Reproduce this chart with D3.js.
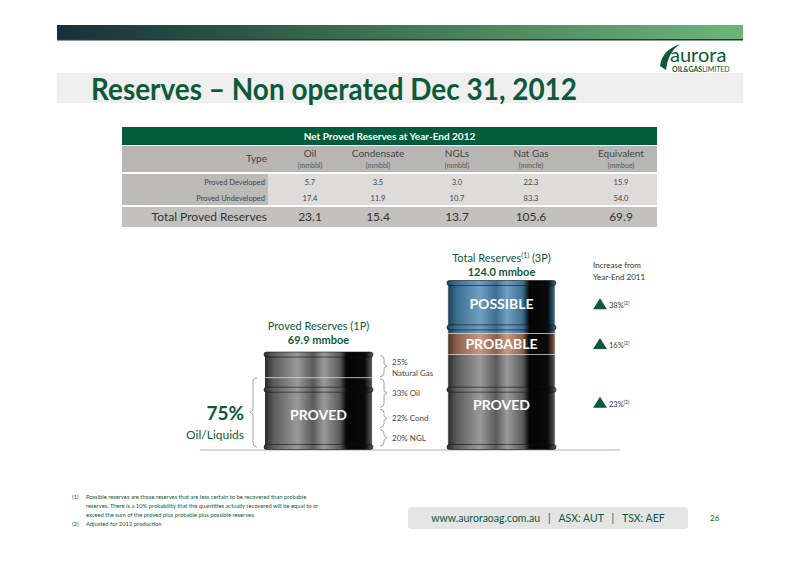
<!DOCTYPE html>
<html><head><meta charset="utf-8">
<script src="https://cdn.jsdelivr.net/npm/d3@7"></script>
<style>body{margin:0;background:#fff}svg{display:block;font-family:Lato,"Open Sans",sans-serif}</style>
</head><body><div id="chart"></div>
<script>
const columns = ["Oil", "Condensate", "NGLs", "Nat Gas", "Equivalent"];
const units = ["(mmbbl)", "(mmbbl)", "(mmbbl)", "(mmcfe)", "(mmboe)"];
const rowLabels = ["Proved Developed", "Proved Undeveloped"];
const developed = ["5.7", "3.5", "3.0", "22.3", "15.9"];
const undeveloped = ["17.4", "11.9", "10.7", "83.3", "54.0"];
const totals = ["23.1", "15.4", "13.7", "105.6", "69.9"];

const barrels = ["1P", "3P"];
const categories = ["PROVED", "PROBABLE", "POSSIBLE"];
const reserves3P = [69.9, 16.0, 38.1];
const mix1P = [{ label: "20% NGL", v: 20 }, { label: "22% Cond", v: 22 }, { label: "33% Oil", v: 33 }, { label: "25%|Natural Gas", v: 25 }];
const increases = ["23%", "16%", "38%"];

const W = 800, H = 565;
const svg = d3.select("#chart").append("svg").attr("width", W).attr("height", H);
const defs = svg.append("defs");
const green = "#0d5a3a";

// header bar
const hg = defs.append("linearGradient").attr("id", "hdr");
hg.append("stop").attr("offset", "0%").attr("stop-color", "#16303a");
hg.append("stop").attr("offset", "45%").attr("stop-color", "#3d7050");
hg.append("stop").attr("offset", "100%").attr("stop-color", "#6db57a");
svg.append("rect").attr("x", 57).attr("y", 25).attr("width", 686).attr("height", 14).attr("fill", "url(#hdr)");
svg.append("rect").attr("x", 57).attr("y", 39).attr("width", 686).attr("height", 1.5).attr("fill", "#1c3f30");

// logo
svg.append("path").attr("d", "M660,66 Q662,50 680,44 Q668,52 666,70 Z").attr("fill", green);
svg.append("text").attr("x", 670).attr("y", 62).attr("font-size", 20).attr("fill", green).attr("font-weight", 400).text("aurora");
svg.append("text").attr("x", 672).attr("y", 72).attr("font-size", 7).attr("fill", green).attr("font-weight", 700).text("OIL&GAS").append("tspan").attr("font-weight", 400).text("LIMITED");

// title
svg.append("rect").attr("x", 57).attr("y", 73).attr("width", 686).attr("height", 30).attr("fill", "#efefef");
svg.append("text").attr("x", 91).attr("y", 100).attr("font-size", 30).attr("font-weight", 700)
  .attr("fill", green).attr("textLength", 486).attr("lengthAdjust", "spacingAndGlyphs").text("Reserves \u2013 Non operated Dec 31, 2012");

// table
const tx = 122, tw = 535;
const xCond = { "Oil": 310, "Condensate": 378, "NGLs": 457, "Nat Gas": 531, "Equivalent": 621 };
const cx = c => xCond[c];
const tab = svg.append("g");
tab.append("rect").attr("x", tx).attr("y", 127).attr("width", tw).attr("height", 18).attr("fill", "#035c3c");
tab.append("text").attr("x", tx + tw / 2).attr("y", 140).attr("text-anchor", "middle").attr("font-size", 10).attr("font-weight", 700).attr("fill", "#fff").text("Net Proved Reserves at Year-End 2012");
tab.append("rect").attr("x", tx).attr("y", 146).attr("width", tw).attr("height", 26).attr("fill", "#b8b6b3");
tab.append("text").attr("x", 267).attr("y", 162).attr("text-anchor", "end").attr("font-size", 10).attr("fill", "#444").text("Type");
columns.forEach((c, i) => {
  tab.append("text").attr("x", cx(c)).attr("y", 157).attr("text-anchor", "middle").attr("font-size", 10).attr("fill", "#444").text(c);
  tab.append("text").attr("x", cx(c)).attr("y", 168).attr("text-anchor", "middle").attr("font-size", 7).attr("fill", "#555").text(units[i]);
});
tab.append("rect").attr("x", tx).attr("y", 174).attr("width", tw).attr("height", 31).attr("fill", "#dddcdb");
tab.append("rect").attr("x", tx).attr("y", 174).attr("width", 146).attr("height", 31).attr("fill", "#bdbbb8");
[developed, undeveloped].forEach((row, r) => {
  const y = 185 + r * 16;
  tab.append("text").attr("x", 265).attr("y", y).attr("text-anchor", "end").attr("font-size", 7.5).attr("fill", "#444").text(rowLabels[r]);
  row.forEach((v, i) => tab.append("text").attr("x", cx(columns[i])).attr("y", y).attr("text-anchor", "middle").attr("font-size", 7.5).attr("fill", "#444").text(v));
});
tab.append("rect").attr("x", tx).attr("y", 207).attr("width", tw).attr("height", 20).attr("fill", "#c3c1be");
tab.append("text").attr("x", 267).attr("y", 221).attr("text-anchor", "end").attr("font-size", 12).attr("fill", "#333").text("Total Proved Reserves");
totals.forEach((v, i) => tab.append("text").attr("x", cx(columns[i])).attr("y", 221).attr("text-anchor", "middle").attr("font-size", 12).attr("fill", "#333").text(v));

// barrels
const base = 447;
const x = d3.scaleBand().domain(barrels).range([265, 555]).paddingInner(0.415).paddingOuter(0);
const y = d3.scaleLinear().domain([0, 124]).range([base, 283]);
svg.append("line").attr("x1", 200).attr("x2", 620).attr("y1", base + 3).attr("y2", base + 3).attr("stroke", "#9fb8a8").attr("stroke-width", 1);

function grad(id, light, mid, dark) {
  const g = defs.append("linearGradient").attr("id", id);
  [[0, dark], [0.08, mid], [0.3, light], [0.45, mid], [0.55, light], [0.7, mid], [0.76, "#050505"], [0.93, "#0a0a0a"], [1, mid]]
    .forEach(([o, c]) => g.append("stop").attr("offset", o).attr("stop-color", c));
}
grad("gGray", "#9a9a9a", "#5a5a5a", "#2a2a2a");
grad("gBlue", "#6fa0c4", "#3d6e90", "#1f3f58");
grad("gBrown", "#c99a80", "#8f6049", "#4a2e22");
const fills = { PROVED: "url(#gGray)", PROBABLE: "url(#gBrown)", POSSIBLE: "url(#gBlue)" };

function rim(g, x0, ry, fill) {
  g.append("rect").attr("x", x0 - 1).attr("width", x.bandwidth() + 2).attr("y", ry - 2.5).attr("height", 5).attr("rx", 2.5)
    .attr("fill", fill).attr("stroke", "#111").attr("stroke-width", 0.6);
}

// 3P stacked barrel
const stack = [];
let acc = 0;
categories.forEach((c, i) => { stack.push({ c, y0: acc, y1: acc + reserves3P[i], inc: increases[i] }); acc += reserves3P[i]; });
const b3 = svg.append("g");
const bw = x.bandwidth();
b3.selectAll("rect.seg").data(stack).join("rect").attr("class", "seg")
  .attr("x", x("3P")).attr("width", bw).attr("y", d => y(d.y1)).attr("height", d => y(d.y0) - y(d.y1))
  .attr("fill", d => fills[d.c]).attr("stroke", "#ddd").attr("stroke-width", 0.6);
rim(b3, x("3P"), y(124), fills.POSSIBLE);
rim(b3, x("3P"), y(69.9 + 16) - 6, fills.POSSIBLE);
rim(b3, x("3P"), y(69.9 * 0.62), fills.PROVED);
rim(b3, x("3P"), base, fills.PROVED);
b3.selectAll("text.seg").data(stack).join("text").attr("class", "seg")
  .attr("x", x("3P") + bw / 2).attr("y", d => (y(d.y0) + y(d.y1)) / 2 + 5 + (d.c === "PROVED" ? 4 : 0) + (d.c === "POSSIBLE" ? -4 : 0))
  .attr("text-anchor", "middle").attr("font-size", 14).attr("font-weight", 700).attr("fill", "#fff").text(d => d.c);

// increase markers
stack.forEach(d => {
  const my = (y(d.y0) + y(d.y1)) / 2 + (d.c === "PROVED" ? 2 : 0) + (d.c === "POSSIBLE" ? -4 : 0);
  svg.append("path").attr("d", `M593,${my + 5}L600,${my - 6}L607,${my + 5}Z`).attr("fill", green);
  svg.append("text").attr("x", 609).attr("y", my + 4).attr("font-size", 7.5).attr("fill", "#333").text(d.inc)
    .append("tspan").attr("font-size", 5).attr("dy", -3).text("(2)");
});
svg.append("text").attr("x", 593).attr("y", 268).attr("font-size", 8).attr("fill", "#333").text("Increase from");
svg.append("text").attr("x", 593).attr("y", 280).attr("font-size", 8).attr("fill", "#333").text("Year-End 2011");
svg.append("text").attr("x", x("3P") + bw / 2).attr("y", 262).attr("text-anchor", "middle").attr("font-size", 11).attr("fill", green)
  .text("Total Reserves").append("tspan").attr("font-size", 7).attr("dy", -4).text("(1)").append("tspan").attr("dy", 4).attr("font-size", 11).text(" (3P)");
svg.append("text").attr("x", x("3P") + bw / 2).attr("y", 276).attr("text-anchor", "middle").attr("font-size", 11).attr("font-weight", 700).attr("fill", green).text("124.0 mmboe");

// 1P barrel
const y1 = d3.scaleLinear().domain([0, 100]).range([base, y(69.9)]);
const b1 = svg.append("g");
const x1 = x("1P");
b1.append("rect").attr("x", x1).attr("width", bw).attr("y", y1(100)).attr("height", base - y1(100)).attr("fill", fills.PROVED);
b1.append("line").attr("x1", x1).attr("x2", x1 + bw).attr("y1", y1(75)).attr("y2", y1(75)).attr("stroke", "#ddd").attr("stroke-width", 0.8);
[y1(100), y1(62), base].forEach(ry => rim(b1, x1, ry, fills.PROVED));
b1.append("text").attr("x", x1 + bw / 2).attr("y", y1(35) + 5).attr("text-anchor", "middle").attr("font-size", 14).attr("font-weight", 700).attr("fill", "#fff").text("PROVED");
svg.append("text").attr("x", x1 + bw / 2).attr("y", 330).attr("text-anchor", "middle").attr("font-size", 11).attr("fill", green).text("Proved Reserves (1P)");
svg.append("text").attr("x", x1 + bw / 2).attr("y", 344).attr("text-anchor", "middle").attr("font-size", 11).attr("font-weight", 700).attr("fill", green).text("69.9 mmboe");

// brackets
const bx = x1 + bw + 8;
let a = 0;
mix1P.forEach(m => {
  const top = y1(a + m.v), bot = y1(a);
  a += m.v;
  svg.append("path").attr("d", `M${bx},${bot - 1}q4,0 4,-4V${(top + bot) / 2 + 2}l3,-2l-3,-2V${top + 5}q0,-4 -4,-4`).attr("fill", "none").attr("stroke", "#8a8a8a").attr("stroke-width", 0.8);
  const parts = m.label.split("|");
  const ly = parts.length > 1 ? top + 10 : (top + bot) / 2 + 3;
  parts.forEach((p, i) => svg.append("text").attr("x", bx + 12).attr("y", ly + i * 11).attr("font-size", 8).attr("fill", "#444").text(p));
});
// 75% bracket
svg.append("path").attr("d", `M${x1 - 8},${y1(75)}q-4,0 -4,4V${(y1(75) + base) / 2 - 2}l-3,2l3,2V${base - 4}q0,4 4,4`).attr("fill", "none").attr("stroke", "#8a8a8a").attr("stroke-width", 0.8);
svg.append("text").attr("x", 244).attr("y", 420).attr("text-anchor", "end").attr("font-size", 19).attr("font-weight", 700).attr("fill", green).text("75%");
svg.append("text").attr("x", 244).attr("y", 439).attr("text-anchor", "end").attr("font-size", 12).attr("fill", green).text("Oil/Liquids");

// footnotes
const fn = [["(1)", "Possible reserves are those reserves that are less certain to be recovered than probable"], ["", "reserves.  There is a 10% probability that the quantities actually recovered will be equal to or"], ["", "exceed the sum of the proved plus probable plus possible reserves."], ["(2)", "Adjusted for 2012 production"]];
fn.forEach((f, i) => {
  svg.append("text").attr("x", 72).attr("y", 499 + i * 9).attr("font-size", 5.8).attr("fill", green).text(f[0]);
  svg.append("text").attr("x", 86).attr("y", 499 + i * 9).attr("font-size", 5.8).attr("fill", green).text(f[1]);
});
svg.append("rect").attr("x", 408).attr("y", 507).attr("width", 280).attr("height", 22).attr("rx", 3).attr("fill", "#e4e4e4");
svg.append("text").attr("x", 548).attr("y", 522).attr("text-anchor", "middle").attr("font-size", 10.5).attr("fill", green).attr("xml:space", "preserve").text("www.auroraoag.com.au   |   ASX: AUT   |   TSX: AEF");
svg.append("text").attr("x", 710).attr("y", 521).attr("font-size", 8).attr("fill", green).text("26");
</script></body></html>
